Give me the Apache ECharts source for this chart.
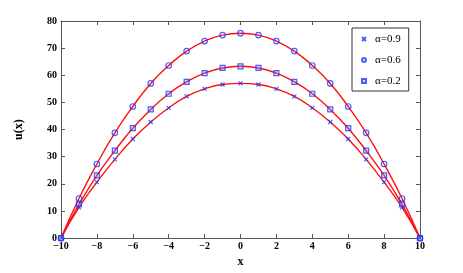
<!DOCTYPE html>
<html><head><meta charset="utf-8">
<script src="https://cdn.jsdelivr.net/npm/echarts@6/dist/echarts.min.js"></script>
<style>html,body{margin:0;padding:0;background:#fff}#c{width:463px;height:273px}</style>
</head><body><div id="c"></div>
<script>
const xs = [-10,-9,-8,-7,-6,-5,-4,-3,-2,-1,0,1,2,3,4,5,6,7,8,9,10];
const a09 = [0,11.3,20.6,29.0,36.5,42.8,48.0,52.2,55.0,56.6,57.0,56.6,55.0,52.2,48.0,42.8,36.5,29.0,20.6,11.3,0];
const a06 = [0,14.6,27.3,38.8,48.5,57.0,63.6,68.9,72.6,74.8,75.5,74.8,72.6,68.9,63.6,57.0,48.5,38.8,27.3,14.6,0];
const a02 = [0,12.4,23.1,32.2,40.5,47.4,53.2,57.6,60.8,62.7,63.3,62.7,60.8,57.6,53.2,47.4,40.5,32.2,23.1,12.4,0];
const names = ['α=0.9','α=0.6','α=0.2'];
const xTicks = [-10,-8,-6,-4,-2,0,2,4,6,8,10];
const yTicks = [0,10,20,30,40,50,60,70,80];

const pair = arr => xs.map((x,i)=>[x,arr[i]]);
const font = 'Liberation Serif';
const axisColor = '#555';
const blue = '#2236ff';
const cross = 'path://M0,0L10,10M10,0L0,10';

const baseX = {type:'value', min:-10, max:10, interval:2,
  axisLine:{onZero:false,lineStyle:{color:axisColor,width:1}},
  axisTick:{inside:true,length:4,lineStyle:{color:axisColor}},
  splitLine:{show:false}};
const baseY = {type:'value', min:0, max:80, interval:10,
  axisLine:{show:true,onZero:false,lineStyle:{color:axisColor,width:1}},
  axisTick:{show:true,inside:true,length:4,lineStyle:{color:axisColor}},
  splitLine:{show:false}};

const lineSeries = [a09,a06,a02].map(d=>({type:'line', data:pair(d), smooth:true, showSymbol:false,
  symbol:'none', lineStyle:{color:'#ff1010',width:1.4}, z:2, silent:true}));
const symbols = [cross,'circle','rect'];
const sizes = [4,5.5,5];
const scatterSeries = [a09,a06,a02].map((d,i)=>({type:'scatter', name:names[i], data:pair(d),
  symbol:symbols[i], symbolSize:sizes[i],
  itemStyle:{color: i===2 ? 'rgba(120,140,255,0.35)' : 'rgba(255,255,255,0)', borderColor:blue, borderWidth:1.2}, z:3}));

const chart = echarts.init(document.getElementById('c'));
chart.setOption({
  animation:false,
  backgroundColor:'#fff',
  grid:{left:61,right:43,top:21,bottom:31,containLabel:false},
  legend:{data:names, orient:'vertical', left:352, top:28, width:56,
    backgroundColor:'#fff', borderColor:'#333', borderWidth:1,
    padding:[5,8,4,9], itemGap:9, itemWidth:4, itemHeight:4,
    textStyle:{fontFamily:font,fontSize:11,color:'#000',lineHeight:12,padding:[0,0,0,4]}},
  xAxis:[Object.assign({}, baseX, {position:'bottom', name:'x', nameLocation:'middle', nameGap:17,
      nameTextStyle:{fontFamily:font,fontWeight:'bold',fontSize:12,color:'#000'},
      axisLabel:{fontFamily:font,fontWeight:'bold',fontSize:10,color:'#000',margin:3,
        formatter:v=>xTicks.includes(v)? (v<0?'−'+(-v):String(v)) : ''}}),
    Object.assign({}, baseX, {position:'top', axisLabel:{show:false}})],
  yAxis:[Object.assign({}, baseY, {position:'left', name:'u(x)', nameLocation:'middle', nameGap:36,
      nameTextStyle:{fontFamily:font,fontWeight:'bold',fontSize:12,color:'#000'},
      axisLabel:{fontFamily:font,fontWeight:'bold',fontSize:10,color:'#000',margin:4,
        formatter:v=>yTicks.includes(v)?String(v):''}}),
    Object.assign({}, baseY, {position:'right', axisLabel:{show:false}})],
  series: lineSeries.concat(scatterSeries)
});
</script></body></html>
